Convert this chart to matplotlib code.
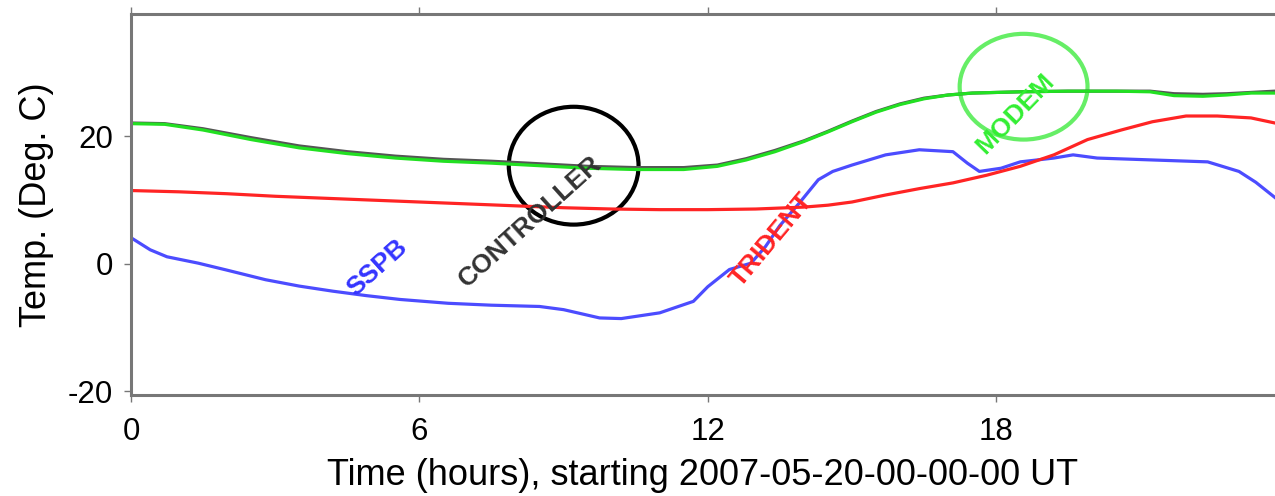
from matplotlib import pyplot as plt
from matplotlib.patches import Ellipse
import numpy as np

plt.rcParams['font.family'] = ['Liberation Sans', 'DejaVu Sans']
plt.rcParams['axes.unicode_minus'] = False

# Temperaturer lest av bildet (timer etter start, grader C)
timer_modem = [0, 0.7, 1.5, 2.5, 3.5, 4.5, 5.5, 6.5, 7.5, 8.5, 9.5, 10.5, 11.5,
               12.2, 12.8, 13.4, 14.0, 14.5, 15.0, 15.5, 16.0, 16.5, 17.0, 17.5,
               18.5, 19.5, 20.5, 21.2, 21.7, 22.3, 22.8, 23.3, 23.8]
modem = [22.0, 21.9, 21.0, 19.5, 18.2, 17.3, 16.6, 16.1, 15.8, 15.4, 15.0, 14.8, 14.8,
         15.3, 16.3, 17.6, 19.2, 20.7, 22.3, 23.8, 25.0, 25.9, 26.5, 26.8,
         27.0, 27.1, 27.1, 27.0, 26.4, 26.3, 26.5, 26.8, 26.8]
controller = [22.1, 22.0, 21.2, 19.8, 18.5, 17.6, 16.9, 16.4, 16.1, 15.7, 15.3, 15.1, 15.1,
              15.5, 16.5, 17.8, 19.3, 20.8, 22.4, 23.9, 25.1, 26.0, 26.5, 26.8,
              27.0, 27.1, 27.1, 27.1, 26.7, 26.6, 26.7, 26.9, 27.1]

timer_trident = [0, 1, 2, 3, 4, 5, 6, 7, 8, 9, 10, 11, 12, 13, 14, 14.5, 15.0, 15.7,
                 16.4, 17.1, 17.8, 18.5, 19.2, 19.9, 20.6, 21.25, 21.95, 22.6, 23.3, 23.8]
trident = [11.5, 11.3, 11.0, 10.6, 10.3, 10.0, 9.7, 9.4, 9.1, 8.8, 8.6, 8.5, 8.5, 8.6,
           8.9, 9.2, 9.7, 10.8, 11.8, 12.7, 13.9, 15.3, 17.1, 19.5, 21.0, 22.3, 23.2,
           23.2, 22.9, 22.1]

timer_sspb = [0, 0.4, 0.75, 1.4, 2.0, 2.8, 3.5, 4.2, 4.9, 5.6, 6.6, 7.5, 8.5, 9.0, 9.75,
              10.2, 11.0, 11.7, 12.0, 12.45, 12.9, 13.2, 13.5, 13.9, 14.3, 14.6, 15.0,
              15.7, 16.4, 17.1, 17.4, 17.65, 18.1, 18.5, 19.2, 19.6, 20.1, 21.25, 22.4,
              23.05, 23.4, 23.8]
sspb = [4.1, 2.2, 1.1, 0.1, -1.0, -2.5, -3.5, -4.3, -5.0, -5.6, -6.2, -6.5, -6.7, -7.2,
        -8.5, -8.6, -7.7, -5.9, -3.6, -0.9, 0.1, 2.7, 6.0, 9.5, 13.2, 14.5, 15.5, 17.1,
        17.9, 17.6, 15.8, 14.5, 15.0, 16.0, 16.6, 17.1, 16.6, 16.3, 16.0, 14.5, 12.8, 10.4]

fig = plt.figure(figsize=(12.75, 4.96), dpi=100)
ax = fig.add_axes([0.1027, 0.2036, 0.8973, 0.768])

ax.plot(timer_sspb, sspb, color='#4c4cff', lw=2.3)
ax.plot(timer_trident, trident, color='#ff2424', lw=2.3)
ax.plot(timer_modem, controller, color='#555555', lw=2.3)
ax.plot(timer_modem, modem, color='#22e022', lw=2.3)

# Etiketter langs kurvene
ax.text(5.13, -0.6, 'SSPB', color='#3434ff', fontsize=19, fontweight='bold',
        rotation=42, ha='center', va='center')
ax.text(8.3, 6.6, 'CONTROLLER', color='#333333', fontsize=19, fontweight='bold',
        rotation=42, ha='center', va='center')
ax.text(13.33, 3.8, 'TRIDENT', color='#ff2424', fontsize=19, fontweight='bold',
        rotation=50, ha='center', va='center')
ax.text(18.4, 23.5, 'MODEM', color='#33ee33', fontsize=19, fontweight='bold',
        rotation=46, ha='center', va='center')

# Ringer
ax.add_patch(Ellipse((9.21, 15.4), 2.70, 18.5, fill=False, ec='black', lw=3))
ax.add_patch(Ellipse((18.57, 27.8), 2.66, 16.6, fill=False, ec='#66ee66', lw=3))

ax.set_xlim(0, 23.8)
ax.set_ylim(-20.6, 39.2)
ax.set_xticks([0, 6, 12, 18])
ax.set_yticks([-20, 0, 20])
ax.tick_params(axis='both', labelsize=22.5, color='#777777', length=5, width=1,
               direction='out')
ax.tick_params(axis='x', top=True, pad=11)
ax.tick_params(axis='y', pad=8)
for side in ['left', 'top', 'bottom']:
    ax.spines[side].set_color('#777777')
    ax.spines[side].set_linewidth(2.2)
ax.spines['right'].set_visible(False)

ax.set_xlabel('Time (hours), starting 2007-05-20-00-00-00 UT', fontsize=26, labelpad=8)
ax.set_ylabel('Temp. (Deg. C)', fontsize=26, labelpad=10)

plt.savefig('out.png', dpi=100)
